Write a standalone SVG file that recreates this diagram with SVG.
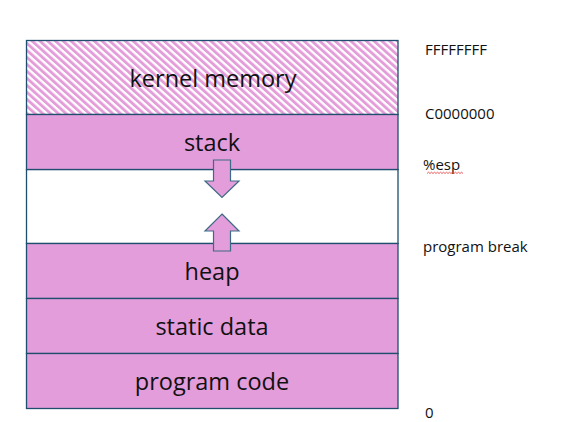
<svg xmlns="http://www.w3.org/2000/svg" width="581" height="422" viewBox="0 0 581 422">
<defs>
<pattern id="hatch" patternUnits="userSpaceOnUse" width="5.2" height="10" patternTransform="rotate(-48)">
<rect width="5.2" height="10" fill="#ffffff"/>
<rect x="0" y="0" width="2.9" height="10" fill="#E39ED9"/>
</pattern>
<style>
.seg{fill:#E39DDB;stroke:#1F4E6E;stroke-width:1.3}
.lbl{font-family:"Open Sans","Liberation Sans",sans-serif;font-size:23.5px;fill:#111;text-anchor:middle}
.addr{font-family:"Open Sans","Liberation Sans",sans-serif;font-size:15px;fill:#111}
.arr{fill:#E39DDB;stroke:#3F6A85;stroke-width:1.2;stroke-linejoin:miter}
</style>
</defs>
<g id="white-gap"><rect x="26.5" y="169.5" width="371.5" height="74" fill="#ffffff" stroke="#1F4E6E" stroke-width="1.3"/></g>
<g id="kernel"><rect x="26.5" y="40.5" width="371.5" height="74" fill="url(#hatch)" stroke="#1F4E6E" stroke-width="1.3"/><text class="lbl" x="213" y="86.5">kernel memory</text></g>
<g id="stack"><rect class="seg" x="26.5" y="114.5" width="371.5" height="55"/><text class="lbl" x="212" y="150.5">stack</text></g>
<g id="heap"><rect class="seg" x="26.5" y="243.5" width="371.5" height="55"/><text class="lbl" x="212" y="280">heap</text></g>
<g id="static"><rect class="seg" x="26.5" y="298.5" width="371.5" height="55"/><text class="lbl" x="212" y="335">static data</text></g>
<g id="code"><rect class="seg" x="26.5" y="353.5" width="371.5" height="55"/><text class="lbl" x="212" y="390">program code</text></g>
<g id="connectors">
<path class="arr" d="M213.5,160 H230.5 V181 H239 L222,197.5 L205,181 H213.5 Z"/>
<path class="arr" d="M222,214 L239,231 H230.5 V251 H213.5 V231 H205 Z"/>
</g>
<g id="addresses">
<text class="addr" x="425" y="55">FFFFFFFF</text>
<text class="addr" x="425" y="118.5">C0000000</text>
<text class="addr" x="423" y="170">%esp</text>
<path d="M427,173.5 l1.5,-1.3 l1.5,1.3 l1.5,-1.3 l1.5,1.3 l1.5,-1.3 l1.5,1.3 l1.5,-1.3 l1.5,1.3 l1.5,-1.3 l1.5,1.3 l1.5,-1.3 l1.5,1.3 l1.5,-1.3 l1.5,1.3 l1.5,-1.3 l1.5,1.3 l1.5,-1.3 l1.5,1.3 l1.5,-1.3 l1.5,1.3 l1.5,-1.3 l1.5,1.3 l1.5,-1.3 l1.5,1.3" fill="none" stroke="#E03030" stroke-width="0.8"/>
<text class="addr" x="423" y="252">program break</text>
<text class="addr" x="425" y="418">0</text>
</g>
</svg>
